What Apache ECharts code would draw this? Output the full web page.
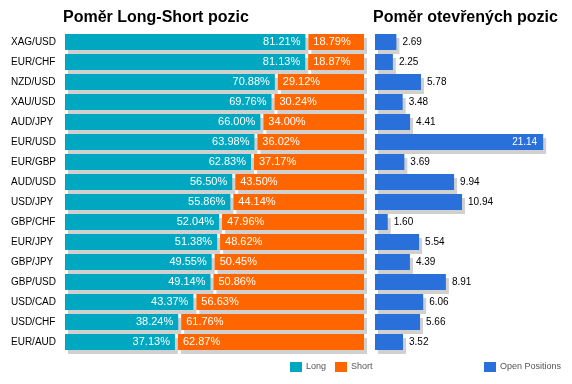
<!DOCTYPE html>
<html>
<head>
<meta charset="utf-8">
<script src="https://cdn.jsdelivr.net/npm/echarts@6/dist/echarts.min.js"></script>
<style>html,body{margin:0;padding:0;background:#fff}#c{width:572px;height:384px}</style>
</head>
<body>
<div id="c"></div>
<script>
var categories = ['XAG/USD','EUR/CHF','NZD/USD','XAU/USD','AUD/JPY','EUR/USD','EUR/GBP','AUD/USD','USD/JPY','GBP/CHF','EUR/JPY','GBP/JPY','GBP/USD','USD/CAD','USD/CHF','EUR/AUD'];
var longVals = [81.21,81.13,70.88,69.76,66.00,63.98,62.83,56.50,55.86,52.04,51.38,49.55,49.14,43.37,38.24,37.13];
var shortVals = [18.79,18.87,29.12,30.24,34.00,36.02,37.17,43.50,44.14,47.96,48.62,50.45,50.86,56.63,61.76,62.87];
var openVals = [2.69,2.25,5.78,3.48,4.41,21.14,3.69,9.94,10.94,1.60,5.54,4.39,8.91,6.06,5.66,3.52];
var titles = ['Poměr Long-Short pozic', 'Poměr otevřených pozic'];

var TEAL = '#00A7C0', ORANGE = '#FF6600', BLUE = '#2A70DA', SHADOW = '#D0D0D0';
var FONT = 'Arial, "Liberation Sans", sans-serif';
var shadowStyle = {shadowColor: SHADOW, shadowBlur: 0, shadowOffsetX: 3, shadowOffsetY: 4};
var maxOpen = Math.max.apply(null, openVals);

var chart = echarts.init(document.getElementById('c'), null, {renderer: 'canvas'});
chart.setOption({
  animation: false,
  backgroundColor: '#fff',
  textStyle: {fontFamily: FONT},
  title: [
    {text: titles[0], left: 58, top: 5, textStyle: {fontFamily: FONT, fontSize: 16, fontWeight: 'bold', color: '#000'}},
    {text: titles[1], left: 368, top: 5, textStyle: {fontFamily: FONT, fontSize: 16, fontWeight: 'bold', color: '#000'}}
  ],
  legend: [
    {data: ['Long', 'Short'], left: 290, top: 362, itemWidth: 12, itemHeight: 10, itemGap: 9,
     icon: 'rect', padding: 0, textStyle: {fontSize: 9, color: '#555', fontFamily: FONT, padding: [0, 0, 0, -1]}},
    {data: ['Open Positions'], left: 484, top: 362, itemWidth: 12, itemHeight: 10,
     icon: 'rect', padding: 0, textStyle: {fontSize: 9, color: '#555', fontFamily: FONT, padding: [0, 0, 0, -1]}}
  ],
  grid: [
    {left: 65, right: 208, top: 32, bottom: 32},
    {left: 375, right: 22, top: 32, bottom: 32}
  ],
  xAxis: [
    {gridIndex: 0, type: 'value', min: 0, max: 101, show: false},
    {gridIndex: 1, type: 'value', min: 0, max: 22, show: false}
  ],
  yAxis: [
    {gridIndex: 0, type: 'category', data: categories, inverse: true,
     axisLine: {show: false}, axisTick: {show: false}, splitLine: {show: false},
     axisLabel: {align: 'left', margin: 54, fontSize: 10, color: '#000', fontFamily: FONT}},
    {gridIndex: 1, type: 'category', data: categories, inverse: true, show: false}
  ],
  series: [
    {name: 'Long', type: 'bar', stack: 'ls', xAxisIndex: 0, yAxisIndex: 0, barWidth: 16,
     data: longVals, itemStyle: Object.assign({color: TEAL}, shadowStyle),
     label: {show: true, position: 'insideRight', distance: 5, color: '#fff', fontSize: 11, fontFamily: FONT,
             formatter: function (p) { return p.value.toFixed(2) + '%'; }}},
    {name: 'gap', type: 'bar', stack: 'ls', xAxisIndex: 0, yAxisIndex: 0, barWidth: 16, silent: true,
     data: longVals.map(function () { return 1; }), itemStyle: {color: 'rgba(0,0,0,0)'}, label: {show: false}},
    {name: 'Short', type: 'bar', stack: 'ls', xAxisIndex: 0, yAxisIndex: 0, barWidth: 16,
     data: shortVals, itemStyle: Object.assign({color: ORANGE}, shadowStyle),
     label: {show: true, position: 'insideLeft', distance: 5, color: '#fff', fontSize: 11, fontFamily: FONT,
             formatter: function (p) { return p.value.toFixed(2) + '%'; }}},
    {name: 'Open Positions', type: 'bar', xAxisIndex: 1, yAxisIndex: 1, barWidth: 16,
     data: openVals.map(function (v) {
       return v === maxOpen ? {value: v, label: {position: 'insideRight', color: '#fff'}} : v;
     }),
     itemStyle: Object.assign({color: BLUE}, shadowStyle),
     label: {show: true, position: 'right', distance: 6, color: '#000', fontSize: 10, fontFamily: FONT,
             formatter: function (p) { return p.value.toFixed(2); }}}
  ]
});
</script>
</body>
</html>
